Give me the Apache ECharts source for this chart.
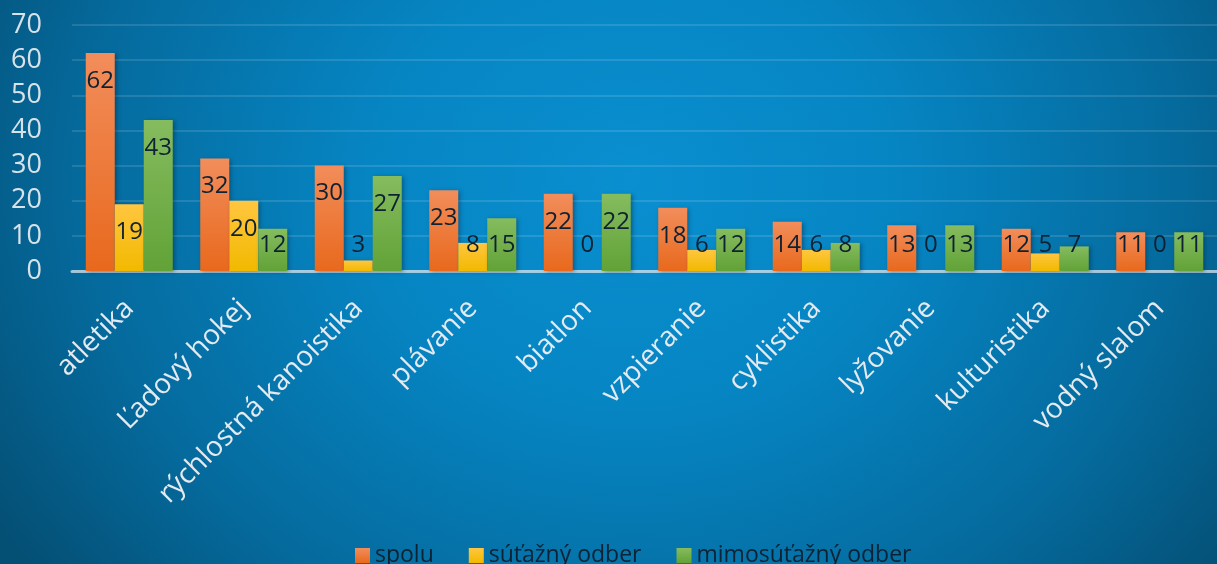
<!DOCTYPE html>
<html>
<head>
<meta charset="utf-8" />
<title>spolu / súťažný / mimosúťažný odber</title>
<script src="https://cdn.jsdelivr.net/npm/echarts@6/dist/echarts.min.js"></script>
<style>
  html, body { margin: 0; padding: 0; }
  #chart {
    width: 1217px; height: 564px;
    background: radial-gradient(ellipse 62% 115% at 52% 32%, #0a8fd0 0%, #0685c3 35%, #056b9e 72%, #044f74 100%);
  }
</style>
</head>
<body>
<div id="chart"></div>
<script type="text/javascript">
var categories = ['atletika', 'Ľadový hokej', 'rýchlostná kanoistika', 'plávanie', 'biatlon',
                  'vzpieranie', 'cyklistika', 'lyžovanie', 'kulturistika', 'vodný slalom'];
var spolu      = [62, 32, 30, 23, 22, 18, 14, 13, 12, 11];
var sutazny    = [19, 20, 3, 8, 0, 6, 6, 0, 5, 0];
var mimosutazny = [43, 12, 27, 15, 22, 12, 8, 13, 7, 11];
var yTicks = [0, 10, 20, 30, 40, 50, 60, 70];

var FONT = 'Open Sans';
var LABEL_SWITCH = 16; // below this the label sits at a fixed height above the axis

function grad(top, bottom) {
  return new echarts.graphic.LinearGradient(0, 0, 0, 1, [
    { offset: 0, color: top }, { offset: 1, color: bottom }
  ]);
}

function items(values) {
  return values.map(function (v) {
    return {
      value: v,
      label: v < LABEL_SWITCH
        ? { position: 'insideBottom', distance: 14 }
        : { position: 'insideTop', distance: 16 }
    };
  });
}

function barSeries(name, values, top, bottom) {
  return {
    name: name,
    type: 'bar',
    barWidth: 29,
    barGap: '0%',
    data: items(values),
    itemStyle: {
      color: grad(top, bottom),
      shadowColor: 'rgba(0,20,40,0.35)',
      shadowBlur: 4,
      shadowOffsetX: 2,
      shadowOffsetY: 1
    },
    label: {
      show: true,
      color: '#0e2233',
      fontFamily: FONT,
      fontSize: 24
    }
  };
}

var chart = echarts.init(document.getElementById('chart'));
chart.setOption({
  backgroundColor: 'transparent',
  animation: false,
  textStyle: { fontFamily: FONT },
  grid: { left: 72, right: -11, top: 25, bottom: 293, containLabel: false },
  legend: {
    left: 350,
    top: 539,
    itemWidth: 15,
    itemHeight: 15,
    itemGap: 35,
    icon: 'rect',
    textStyle: { color: '#0b2334', fontSize: 23, fontFamily: FONT },
    data: ['spolu', 'súťažný odber', 'mimosúťažný odber']
  },
  xAxis: {
    type: 'category',
    data: categories,
    axisTick: { show: false },
    axisLine: { lineStyle: { color: 'rgba(210,225,235,0.75)', width: 3 } },
    axisLabel: {
      rotate: 45,
      margin: 33,
      interval: 0,
      color: '#e4eaef',
      fontSize: 28,
      fontFamily: FONT
    }
  },
  yAxis: {
    type: 'value',
    min: yTicks[0],
    max: yTicks[yTicks.length - 1],
    interval: yTicks[1] - yTicks[0],
    axisLine: { show: false },
    axisTick: { show: false },
    splitLine: { lineStyle: { color: 'rgba(255,255,255,0.12)', width: 2 } },
    axisLabel: { color: '#d8e2e9', fontSize: 27, margin: 30, fontFamily: FONT }
  },
  series: [
    barSeries('spolu', spolu, '#f28d5b', '#e8691d'),
    barSeries('súťažný odber', sutazny, '#ffc640', '#f2b900'),
    barSeries('mimosúťažný odber', mimosutazny, '#85bc5f', '#62a237')
  ]
});
</script>
</body>
</html>
